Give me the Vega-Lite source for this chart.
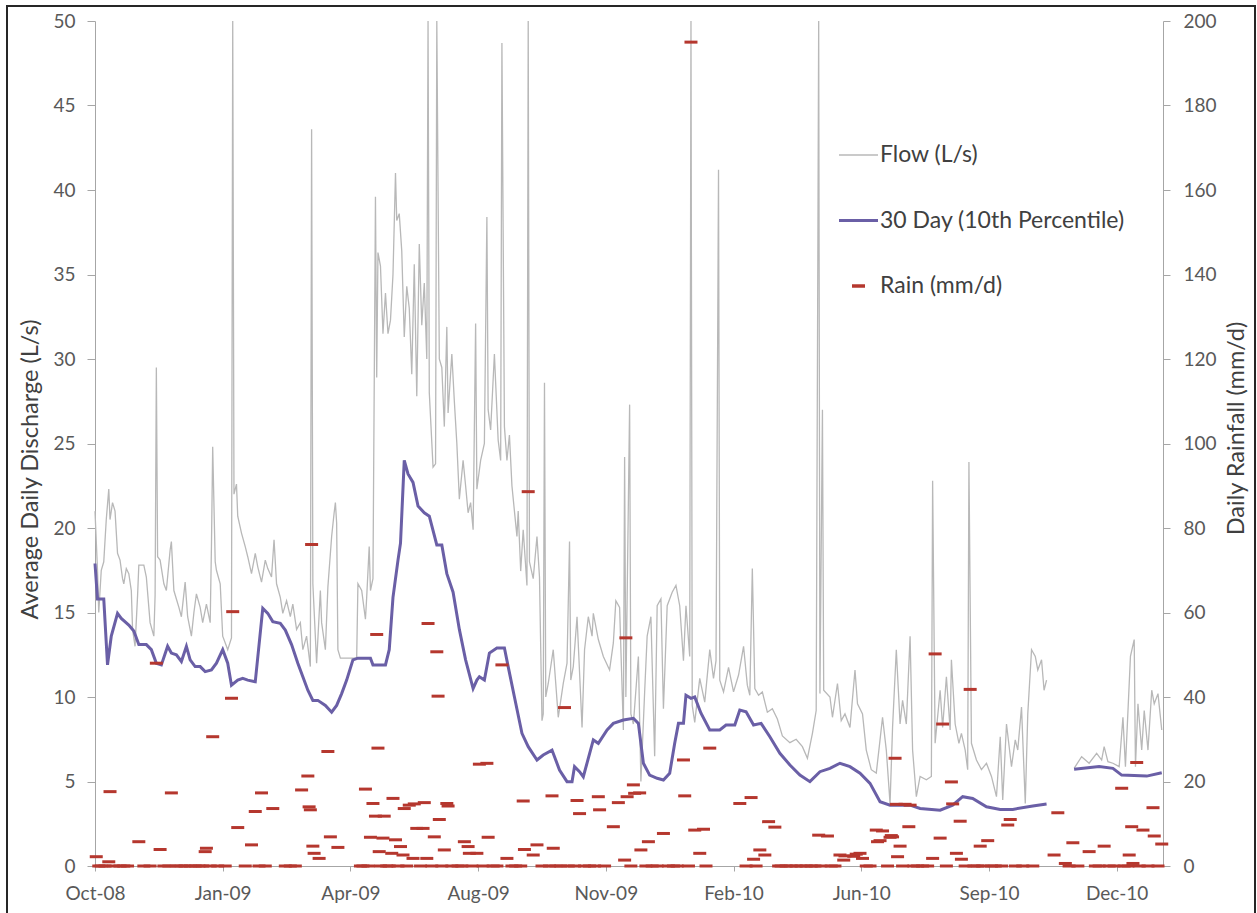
{
  "$schema": "https://vega.github.io/schema/vega-lite/v6.json",
  "width": 1248,
  "height": 910,
  "autosize": {"type": "none"},
  "padding": {"left": 7, "top": 6, "right": 2, "bottom": -3},
  "background": "white",
  "config": {
    "view": {"stroke": "#262626", "strokeWidth": 2},
    "font": "Lato",
    "axis": {
      "labelFont": "Lato", "titleFont": "Lato", "labelFontSize": 19, "labelColor": "#595959",
      "titleFontSize": 23.5, "titleFontWeight": "normal", "titleColor": "#404040",
      "domainColor": "#a6a6a6", "tickColor": "#a6a6a6", "grid": false,
      "labelFlush": false, "labelOverlap": false
    }
  },
  "datasets": {
    "flow": [
      {"date": "2008-10-01", "flow": 21.0}, {"date": "2008-10-03", "flow": 17.5}, {"date": "2008-10-04", "flow": 15.0}, {"date": "2008-10-06", "flow": 17.5},
      {"date": "2008-10-08", "flow": 18.0}, {"date": "2008-10-10", "flow": 20.5}, {"date": "2008-10-12", "flow": 22.3}, {"date": "2008-10-13", "flow": 20.5},
      {"date": "2008-10-15", "flow": 21.5}, {"date": "2008-10-17", "flow": 21.0}, {"date": "2008-10-19", "flow": 18.5}, {"date": "2008-10-21", "flow": 18.1},
      {"date": "2008-10-23", "flow": 17.0}, {"date": "2008-10-24", "flow": 16.7}, {"date": "2008-10-26", "flow": 17.6}, {"date": "2008-10-28", "flow": 17.3},
      {"date": "2008-10-30", "flow": 16.3}, {"date": "2008-10-31", "flow": 14.0}, {"date": "2008-11-02", "flow": 13.0}, {"date": "2008-11-04", "flow": 16.0},
      {"date": "2008-11-05", "flow": 17.8}, {"date": "2008-11-09", "flow": 17.8}, {"date": "2008-11-11", "flow": 17.1}, {"date": "2008-11-14", "flow": 14.4},
      {"date": "2008-11-17", "flow": 13.6}, {"date": "2008-11-18", "flow": 16.0}, {"date": "2008-11-19", "flow": 29.5}, {"date": "2008-11-20", "flow": 18.3},
      {"date": "2008-11-22", "flow": 18.1}, {"date": "2008-11-25", "flow": 16.7}, {"date": "2008-11-27", "flow": 16.3}, {"date": "2008-11-30", "flow": 18.7},
      {"date": "2008-12-01", "flow": 19.2}, {"date": "2008-12-03", "flow": 16.3}, {"date": "2008-12-05", "flow": 15.8}, {"date": "2008-12-07", "flow": 15.3},
      {"date": "2008-12-09", "flow": 14.75}, {"date": "2008-12-12", "flow": 16.8}, {"date": "2008-12-14", "flow": 14.75}, {"date": "2008-12-17", "flow": 13.6},
      {"date": "2008-12-19", "flow": 15.0}, {"date": "2008-12-21", "flow": 16.1}, {"date": "2008-12-24", "flow": 15.3}, {"date": "2008-12-26", "flow": 14.4},
      {"date": "2008-12-29", "flow": 15.5}, {"date": "2009-01-01", "flow": 14.4}, {"date": "2009-01-02", "flow": 18.9}, {"date": "2009-01-03", "flow": 24.8},
      {"date": "2009-01-05", "flow": 18.0}, {"date": "2009-01-06", "flow": 17.5}, {"date": "2009-01-09", "flow": 16.7}, {"date": "2009-01-11", "flow": 13.6},
      {"date": "2009-01-14", "flow": 13.0}, {"date": "2009-01-15", "flow": 12.8}, {"date": "2009-01-18", "flow": 13.5}, {"date": "2009-01-19", "flow": 50},
      {"date": "2009-01-20", "flow": 22.0}, {"date": "2009-01-22", "flow": 22.6}, {"date": "2009-01-23", "flow": 20.7}, {"date": "2009-01-26", "flow": 19.7},
      {"date": "2009-01-29", "flow": 18.9}, {"date": "2009-01-31", "flow": 18.3}, {"date": "2009-02-03", "flow": 17.3}, {"date": "2009-02-06", "flow": 18.5},
      {"date": "2009-02-08", "flow": 17.7}, {"date": "2009-02-11", "flow": 16.8}, {"date": "2009-02-14", "flow": 18.1}, {"date": "2009-02-16", "flow": 17.6},
      {"date": "2009-02-19", "flow": 17.1}, {"date": "2009-02-21", "flow": 19.3}, {"date": "2009-02-23", "flow": 16.7}, {"date": "2009-02-26", "flow": 15.9},
      {"date": "2009-02-28", "flow": 14.95}, {"date": "2009-03-03", "flow": 15.7}, {"date": "2009-03-06", "flow": 14.75}, {"date": "2009-03-08", "flow": 15.5},
      {"date": "2009-03-11", "flow": 14.0}, {"date": "2009-03-14", "flow": 14.4}, {"date": "2009-03-16", "flow": 12.8}, {"date": "2009-03-19", "flow": 13.6},
      {"date": "2009-03-22", "flow": 11.8}, {"date": "2009-03-23", "flow": 43.6}, {"date": "2009-03-24", "flow": 16.7}, {"date": "2009-03-27", "flow": 12.0},
      {"date": "2009-03-30", "flow": 16.3}, {"date": "2009-03-31", "flow": 14.4}, {"date": "2009-04-03", "flow": 12.8}, {"date": "2009-04-05", "flow": 16.5},
      {"date": "2009-04-08", "flow": 19.5}, {"date": "2009-04-10", "flow": 20.9}, {"date": "2009-04-11", "flow": 21.5}, {"date": "2009-04-12", "flow": 20.3},
      {"date": "2009-04-13", "flow": 12.8}, {"date": "2009-04-15", "flow": 12.3}, {"date": "2009-04-28", "flow": 12.3}, {"date": "2009-04-29", "flow": 16.7},
      {"date": "2009-05-02", "flow": 16.3}, {"date": "2009-05-05", "flow": 14.6}, {"date": "2009-05-06", "flow": 15.9}, {"date": "2009-05-08", "flow": 18.9},
      {"date": "2009-05-09", "flow": 16.3}, {"date": "2009-05-11", "flow": 17.0}, {"date": "2009-05-13", "flow": 39.6}, {"date": "2009-05-14", "flow": 28.9},
      {"date": "2009-05-15", "flow": 36.3}, {"date": "2009-05-17", "flow": 35.5}, {"date": "2009-05-19", "flow": 31.5}, {"date": "2009-05-21", "flow": 33.9},
      {"date": "2009-05-23", "flow": 31.5}, {"date": "2009-05-25", "flow": 32.3}, {"date": "2009-05-27", "flow": 35.0}, {"date": "2009-05-29", "flow": 41.0},
      {"date": "2009-05-30", "flow": 38.2}, {"date": "2009-06-01", "flow": 38.6}, {"date": "2009-06-03", "flow": 36.4}, {"date": "2009-06-05", "flow": 31.3},
      {"date": "2009-06-07", "flow": 34.3}, {"date": "2009-06-09", "flow": 33.0}, {"date": "2009-06-11", "flow": 29.1}, {"date": "2009-06-13", "flow": 35.6},
      {"date": "2009-06-15", "flow": 27.8}, {"date": "2009-06-17", "flow": 36.8}, {"date": "2009-06-19", "flow": 32.0}, {"date": "2009-06-21", "flow": 34.5},
      {"date": "2009-06-23", "flow": 30.0}, {"date": "2009-06-24", "flow": 50}, {"date": "2009-06-25", "flow": 28.0}, {"date": "2009-06-28", "flow": 23.6},
      {"date": "2009-06-30", "flow": 23.8}, {"date": "2009-07-01", "flow": 50}, {"date": "2009-07-03", "flow": 30.0}, {"date": "2009-07-05", "flow": 29.5},
      {"date": "2009-07-07", "flow": 26.0}, {"date": "2009-07-09", "flow": 31.9}, {"date": "2009-07-10", "flow": 26.8}, {"date": "2009-07-13", "flow": 30.3},
      {"date": "2009-07-15", "flow": 27.5}, {"date": "2009-07-17", "flow": 25.0}, {"date": "2009-07-19", "flow": 21.7}, {"date": "2009-07-22", "flow": 24.0},
      {"date": "2009-07-24", "flow": 22.5}, {"date": "2009-07-26", "flow": 20.9}, {"date": "2009-07-28", "flow": 21.5}, {"date": "2009-07-30", "flow": 19.9},
      {"date": "2009-08-01", "flow": 32.1}, {"date": "2009-08-02", "flow": 22.3}, {"date": "2009-08-05", "flow": 24.0}, {"date": "2009-08-08", "flow": 25.0},
      {"date": "2009-08-10", "flow": 38.4}, {"date": "2009-08-11", "flow": 27.0}, {"date": "2009-08-13", "flow": 25.8}, {"date": "2009-08-16", "flow": 30.3},
      {"date": "2009-08-19", "flow": 25.2}, {"date": "2009-08-21", "flow": 24.0}, {"date": "2009-08-22", "flow": 48.7}, {"date": "2009-08-24", "flow": 26.0},
      {"date": "2009-08-26", "flow": 24.0}, {"date": "2009-08-28", "flow": 25.5}, {"date": "2009-08-30", "flow": 22.5}, {"date": "2009-09-01", "flow": 21.0},
      {"date": "2009-09-03", "flow": 19.5}, {"date": "2009-09-04", "flow": 21.0}, {"date": "2009-09-06", "flow": 17.45}, {"date": "2009-09-08", "flow": 19.9},
      {"date": "2009-09-11", "flow": 16.6}, {"date": "2009-09-12", "flow": 50}, {"date": "2009-09-13", "flow": 18.0}, {"date": "2009-09-16", "flow": 17.0},
      {"date": "2009-09-19", "flow": 19.5}, {"date": "2009-09-21", "flow": 17.1}, {"date": "2009-09-23", "flow": 8.6}, {"date": "2009-09-24", "flow": 9.0},
      {"date": "2009-09-25", "flow": 28.6}, {"date": "2009-09-26", "flow": 10.0}, {"date": "2009-09-28", "flow": 10.8}, {"date": "2009-10-02", "flow": 12.8},
      {"date": "2009-10-06", "flow": 8.8}, {"date": "2009-10-10", "flow": 10.8}, {"date": "2009-10-13", "flow": 12.0}, {"date": "2009-10-15", "flow": 19.2},
      {"date": "2009-10-16", "flow": 11.0}, {"date": "2009-10-18", "flow": 11.8}, {"date": "2009-10-21", "flow": 14.75}, {"date": "2009-10-25", "flow": 8.2},
      {"date": "2009-10-27", "flow": 12.8}, {"date": "2009-10-30", "flow": 14.75}, {"date": "2009-11-02", "flow": 13.6}, {"date": "2009-11-03", "flow": 14.95},
      {"date": "2009-11-07", "flow": 13.4}, {"date": "2009-11-11", "flow": 12.4}, {"date": "2009-11-16", "flow": 11.6}, {"date": "2009-11-19", "flow": 13.2},
      {"date": "2009-11-21", "flow": 15.7}, {"date": "2009-11-24", "flow": 15.3}, {"date": "2009-11-27", "flow": 8.05}, {"date": "2009-11-28", "flow": 24.2},
      {"date": "2009-11-29", "flow": 10.0}, {"date": "2009-12-02", "flow": 27.3}, {"date": "2009-12-03", "flow": 9.0}, {"date": "2009-12-05", "flow": 8.4},
      {"date": "2009-12-09", "flow": 12.4}, {"date": "2009-12-11", "flow": 5.0}, {"date": "2009-12-14", "flow": 10.3}, {"date": "2009-12-16", "flow": 13.6},
      {"date": "2009-12-19", "flow": 14.75}, {"date": "2009-12-22", "flow": 6.5}, {"date": "2009-12-24", "flow": 15.4}, {"date": "2009-12-27", "flow": 15.8},
      {"date": "2009-12-29", "flow": 9.3}, {"date": "2010-01-01", "flow": 15.4}, {"date": "2010-01-05", "flow": 16.2}, {"date": "2010-01-08", "flow": 16.6},
      {"date": "2010-01-11", "flow": 15.4}, {"date": "2010-01-14", "flow": 12.15}, {"date": "2010-01-16", "flow": 15.4}, {"date": "2010-01-19", "flow": 12.4},
      {"date": "2010-01-20", "flow": 50}, {"date": "2010-01-21", "flow": 9.5}, {"date": "2010-01-23", "flow": 8.5}, {"date": "2010-01-27", "flow": 11.1},
      {"date": "2010-01-31", "flow": 9.7}, {"date": "2010-02-04", "flow": 12.8}, {"date": "2010-02-07", "flow": 11.1}, {"date": "2010-02-09", "flow": 12.15},
      {"date": "2010-02-11", "flow": 41.2}, {"date": "2010-02-12", "flow": 11.0}, {"date": "2010-02-15", "flow": 10.3}, {"date": "2010-02-19", "flow": 11.75},
      {"date": "2010-02-23", "flow": 10.3}, {"date": "2010-02-27", "flow": 11.3}, {"date": "2010-03-03", "flow": 13.0}, {"date": "2010-03-06", "flow": 10.7},
      {"date": "2010-03-08", "flow": 10.1}, {"date": "2010-03-10", "flow": 17.6}, {"date": "2010-03-12", "flow": 10.5}, {"date": "2010-03-15", "flow": 10.1},
      {"date": "2010-03-18", "flow": 10.3}, {"date": "2010-03-22", "flow": 9.1}, {"date": "2010-03-26", "flow": 9.3}, {"date": "2010-03-30", "flow": 8.7},
      {"date": "2010-04-03", "flow": 7.7}, {"date": "2010-04-09", "flow": 7.3}, {"date": "2010-04-14", "flow": 7.5}, {"date": "2010-04-19", "flow": 7.06},
      {"date": "2010-04-23", "flow": 6.37}, {"date": "2010-04-27", "flow": 7.85}, {"date": "2010-04-30", "flow": 9.2}, {"date": "2010-05-02", "flow": 50},
      {"date": "2010-05-03", "flow": 10.2}, {"date": "2010-05-05", "flow": 27.0}, {"date": "2010-05-06", "flow": 10.4}, {"date": "2010-05-11", "flow": 10.0},
      {"date": "2010-05-13", "flow": 8.8}, {"date": "2010-05-17", "flow": 10.8}, {"date": "2010-05-20", "flow": 8.6}, {"date": "2010-05-23", "flow": 9.0},
      {"date": "2010-05-27", "flow": 8.2}, {"date": "2010-05-31", "flow": 11.6}, {"date": "2010-06-02", "flow": 9.6}, {"date": "2010-06-06", "flow": 9.0},
      {"date": "2010-06-09", "flow": 6.86}, {"date": "2010-06-13", "flow": 5.7}, {"date": "2010-06-17", "flow": 5.5}, {"date": "2010-06-20", "flow": 7.46},
      {"date": "2010-06-22", "flow": 8.8}, {"date": "2010-06-25", "flow": 6.86}, {"date": "2010-06-28", "flow": 3.7}, {"date": "2010-06-30", "flow": 8.2},
      {"date": "2010-07-03", "flow": 12.8}, {"date": "2010-07-06", "flow": 8.4}, {"date": "2010-07-08", "flow": 9.8}, {"date": "2010-07-11", "flow": 8.4},
      {"date": "2010-07-14", "flow": 13.6}, {"date": "2010-07-16", "flow": 6.86}, {"date": "2010-07-19", "flow": 4.1}, {"date": "2010-07-22", "flow": 5.3},
      {"date": "2010-07-27", "flow": 5.1}, {"date": "2010-07-31", "flow": 5.3}, {"date": "2010-08-01", "flow": 22.8}, {"date": "2010-08-03", "flow": 7.26},
      {"date": "2010-08-07", "flow": 10.4}, {"date": "2010-08-09", "flow": 8.2}, {"date": "2010-08-12", "flow": 11.2}, {"date": "2010-08-15", "flow": 8.05},
      {"date": "2010-08-16", "flow": 12.2}, {"date": "2010-08-19", "flow": 8.4}, {"date": "2010-08-22", "flow": 7.26}, {"date": "2010-08-24", "flow": 7.85},
      {"date": "2010-08-27", "flow": 6.86}, {"date": "2010-08-29", "flow": 5.7}, {"date": "2010-08-30", "flow": 23.9}, {"date": "2010-09-01", "flow": 7.26},
      {"date": "2010-09-05", "flow": 6.27}, {"date": "2010-09-09", "flow": 5.7}, {"date": "2010-09-13", "flow": 6.08}, {"date": "2010-09-17", "flow": 5.3},
      {"date": "2010-09-21", "flow": 4.1}, {"date": "2010-09-24", "flow": 7.65}, {"date": "2010-09-26", "flow": 3.9}, {"date": "2010-09-29", "flow": 8.4},
      {"date": "2010-10-03", "flow": 5.88}, {"date": "2010-10-06", "flow": 7.46}, {"date": "2010-10-08", "flow": 6.86}, {"date": "2010-10-11", "flow": 9.4},
      {"date": "2010-10-14", "flow": 3.7}, {"date": "2010-10-16", "flow": 9.0}, {"date": "2010-10-19", "flow": 12.8}, {"date": "2010-10-22", "flow": 12.4},
      {"date": "2010-10-24", "flow": 11.6}, {"date": "2010-10-27", "flow": 12.2}, {"date": "2010-10-29", "flow": 10.4}, {"date": "2010-10-31", "flow": 11.0},
      {"date": "2010-11-10", "flow": null},
      {"date": "2010-11-22", "flow": 5.78}, {"date": "2010-11-28", "flow": 6.47}, {"date": "2010-12-04", "flow": 6.08}, {"date": "2010-12-10", "flow": 6.67},
      {"date": "2010-12-14", "flow": 6.27}, {"date": "2010-12-16", "flow": 7.06}, {"date": "2010-12-19", "flow": 6.17}, {"date": "2010-12-23", "flow": 6.08},
      {"date": "2010-12-28", "flow": 5.88}, {"date": "2010-12-31", "flow": 8.8}, {"date": "2011-01-02", "flow": 5.88}, {"date": "2011-01-06", "flow": 12.4},
      {"date": "2011-01-09", "flow": 13.4}, {"date": "2011-01-10", "flow": 5.88}, {"date": "2011-01-12", "flow": 9.6}, {"date": "2011-01-15", "flow": 6.86},
      {"date": "2011-01-17", "flow": 9.2}, {"date": "2011-01-20", "flow": 6.86}, {"date": "2011-01-23", "flow": 10.4}, {"date": "2011-01-25", "flow": 9.6},
      {"date": "2011-01-28", "flow": 10.2}, {"date": "2011-01-31", "flow": 8.05}
    ],
    "p10": [
      {"date": "2008-10-01", "p10": 17.9}, {"date": "2008-10-03", "p10": 15.8}, {"date": "2008-10-08", "p10": 15.8}, {"date": "2008-10-11", "p10": 11.9},
      {"date": "2008-10-14", "p10": 13.6}, {"date": "2008-10-19", "p10": 14.95}, {"date": "2008-10-22", "p10": 14.65}, {"date": "2008-10-28", "p10": 14.26},
      {"date": "2008-11-01", "p10": 13.9}, {"date": "2008-11-05", "p10": 13.1}, {"date": "2008-11-11", "p10": 13.1}, {"date": "2008-11-15", "p10": 12.8},
      {"date": "2008-11-19", "p10": 12.0}, {"date": "2008-11-23", "p10": 11.9}, {"date": "2008-11-28", "p10": 13.0}, {"date": "2008-12-01", "p10": 12.6},
      {"date": "2008-12-05", "p10": 12.5}, {"date": "2008-12-09", "p10": 12.1}, {"date": "2008-12-13", "p10": 13.0}, {"date": "2008-12-16", "p10": 12.2},
      {"date": "2008-12-20", "p10": 11.8}, {"date": "2008-12-24", "p10": 11.8}, {"date": "2008-12-28", "p10": 11.5}, {"date": "2009-01-02", "p10": 11.6},
      {"date": "2009-01-06", "p10": 12.0}, {"date": "2009-01-11", "p10": 12.8}, {"date": "2009-01-15", "p10": 12.0}, {"date": "2009-01-18", "p10": 10.7},
      {"date": "2009-01-23", "p10": 11.0}, {"date": "2009-01-27", "p10": 11.1}, {"date": "2009-01-31", "p10": 11.0}, {"date": "2009-02-06", "p10": 10.9},
      {"date": "2009-02-12", "p10": 15.25}, {"date": "2009-02-16", "p10": 14.95}, {"date": "2009-02-20", "p10": 14.46}, {"date": "2009-02-26", "p10": 14.36},
      {"date": "2009-03-02", "p10": 13.96}, {"date": "2009-03-07", "p10": 13.1}, {"date": "2009-03-12", "p10": 12.0}, {"date": "2009-03-16", "p10": 11.2},
      {"date": "2009-03-20", "p10": 10.4}, {"date": "2009-03-24", "p10": 9.8}, {"date": "2009-03-28", "p10": 9.8}, {"date": "2009-04-03", "p10": 9.5},
      {"date": "2009-04-08", "p10": 9.1}, {"date": "2009-04-12", "p10": 9.5}, {"date": "2009-04-16", "p10": 10.2}, {"date": "2009-04-20", "p10": 11.0},
      {"date": "2009-04-25", "p10": 12.2}, {"date": "2009-04-29", "p10": 12.3}, {"date": "2009-05-09", "p10": 12.3}, {"date": "2009-05-11", "p10": 11.9},
      {"date": "2009-05-21", "p10": 11.9}, {"date": "2009-05-24", "p10": 12.8}, {"date": "2009-05-27", "p10": 15.9}, {"date": "2009-05-31", "p10": 18.1},
      {"date": "2009-06-02", "p10": 19.1}, {"date": "2009-06-05", "p10": 24.0}, {"date": "2009-06-08", "p10": 23.2}, {"date": "2009-06-12", "p10": 22.7},
      {"date": "2009-06-16", "p10": 21.3}, {"date": "2009-06-21", "p10": 20.9}, {"date": "2009-06-25", "p10": 20.7}, {"date": "2009-07-01", "p10": 19.0},
      {"date": "2009-07-05", "p10": 19.0}, {"date": "2009-07-09", "p10": 17.3}, {"date": "2009-07-14", "p10": 16.2}, {"date": "2009-07-19", "p10": 14.0},
      {"date": "2009-07-24", "p10": 12.2}, {"date": "2009-07-30", "p10": 10.5}, {"date": "2009-08-02", "p10": 11.0}, {"date": "2009-08-04", "p10": 11.2},
      {"date": "2009-08-08", "p10": 11.0}, {"date": "2009-08-12", "p10": 12.6}, {"date": "2009-08-18", "p10": 12.9}, {"date": "2009-08-24", "p10": 12.9},
      {"date": "2009-08-27", "p10": 11.8}, {"date": "2009-09-01", "p10": 10.0}, {"date": "2009-09-07", "p10": 7.85}, {"date": "2009-09-12", "p10": 7.06},
      {"date": "2009-09-19", "p10": 6.27}, {"date": "2009-09-24", "p10": 6.57}, {"date": "2009-10-01", "p10": 6.86}, {"date": "2009-10-07", "p10": 5.68},
      {"date": "2009-10-13", "p10": 4.99}, {"date": "2009-10-17", "p10": 4.99}, {"date": "2009-10-19", "p10": 5.88}, {"date": "2009-10-23", "p10": 5.58},
      {"date": "2009-10-26", "p10": 5.28}, {"date": "2009-11-03", "p10": 7.46}, {"date": "2009-11-07", "p10": 7.26}, {"date": "2009-11-14", "p10": 8.05},
      {"date": "2009-11-19", "p10": 8.44}, {"date": "2009-11-27", "p10": 8.64}, {"date": "2009-12-05", "p10": 8.74}, {"date": "2009-12-09", "p10": 8.44},
      {"date": "2009-12-13", "p10": 6.08}, {"date": "2009-12-18", "p10": 5.38}, {"date": "2009-12-24", "p10": 5.19}, {"date": "2009-12-29", "p10": 5.09},
      {"date": "2010-01-03", "p10": 5.49}, {"date": "2010-01-07", "p10": 7.26}, {"date": "2010-01-10", "p10": 8.44}, {"date": "2010-01-14", "p10": 8.44},
      {"date": "2010-01-16", "p10": 10.1}, {"date": "2010-01-20", "p10": 9.92}, {"date": "2010-01-23", "p10": 10.0}, {"date": "2010-01-28", "p10": 9.04},
      {"date": "2010-02-04", "p10": 8.05}, {"date": "2010-02-12", "p10": 8.05}, {"date": "2010-02-17", "p10": 8.34}, {"date": "2010-02-24", "p10": 8.34},
      {"date": "2010-02-28", "p10": 9.23}, {"date": "2010-03-05", "p10": 9.13}, {"date": "2010-03-11", "p10": 8.34}, {"date": "2010-03-17", "p10": 8.44},
      {"date": "2010-03-24", "p10": 7.65}, {"date": "2010-04-01", "p10": 6.67}, {"date": "2010-04-09", "p10": 5.98}, {"date": "2010-04-17", "p10": 5.38},
      {"date": "2010-04-25", "p10": 4.99}, {"date": "2010-05-03", "p10": 5.58}, {"date": "2010-05-11", "p10": 5.78}, {"date": "2010-05-19", "p10": 6.08},
      {"date": "2010-05-27", "p10": 5.88}, {"date": "2010-06-04", "p10": 5.49}, {"date": "2010-06-12", "p10": 4.89}, {"date": "2010-06-20", "p10": 3.8},
      {"date": "2010-06-28", "p10": 3.6}, {"date": "2010-07-14", "p10": 3.6}, {"date": "2010-07-22", "p10": 3.4}, {"date": "2010-08-07", "p10": 3.3},
      {"date": "2010-08-17", "p10": 3.6}, {"date": "2010-08-25", "p10": 4.1}, {"date": "2010-09-02", "p10": 4.0}, {"date": "2010-09-13", "p10": 3.5},
      {"date": "2010-09-24", "p10": 3.35}, {"date": "2010-10-04", "p10": 3.35}, {"date": "2010-10-20", "p10": 3.55}, {"date": "2010-10-31", "p10": 3.67},
      {"date": "2010-11-10", "p10": null},
      {"date": "2010-11-22", "p10": 5.72}, {"date": "2010-12-12", "p10": 5.88}, {"date": "2010-12-23", "p10": 5.78}, {"date": "2010-12-30", "p10": 5.38},
      {"date": "2011-01-19", "p10": 5.32}, {"date": "2011-01-31", "p10": 5.52}
    ],
    "rain": [
      {"date": "2008-10-02", "rain": 2.2}, {"date": "2008-10-04", "rain": 0}, {"date": "2008-10-06", "rain": 0}, {"date": "2008-10-09", "rain": 0},
      {"date": "2008-10-12", "rain": 1.0}, {"date": "2008-10-13", "rain": 17.6}, {"date": "2008-10-16", "rain": 0}, {"date": "2008-10-21", "rain": 0},
      {"date": "2008-10-24", "rain": 0}, {"date": "2008-10-27", "rain": 0}, {"date": "2008-11-05", "rain": 5.75}, {"date": "2008-11-09", "rain": 0},
      {"date": "2008-11-14", "rain": 0}, {"date": "2008-11-19", "rain": 48.0}, {"date": "2008-11-22", "rain": 3.9}, {"date": "2008-11-25", "rain": 0},
      {"date": "2008-11-29", "rain": 0}, {"date": "2008-12-01", "rain": 17.3}, {"date": "2008-12-05", "rain": 0}, {"date": "2008-12-09", "rain": 0},
      {"date": "2008-12-12", "rain": 0}, {"date": "2008-12-16", "rain": 0}, {"date": "2008-12-20", "rain": 0}, {"date": "2008-12-23", "rain": 0},
      {"date": "2008-12-26", "rain": 0}, {"date": "2008-12-28", "rain": 3.4}, {"date": "2008-12-29", "rain": 4.2}, {"date": "2009-01-01", "rain": 0},
      {"date": "2009-01-03", "rain": 30.6}, {"date": "2009-01-07", "rain": 0}, {"date": "2009-01-13", "rain": 0}, {"date": "2009-01-18", "rain": 39.7},
      {"date": "2009-01-19", "rain": 60.2}, {"date": "2009-01-23", "rain": 9.1}, {"date": "2009-01-29", "rain": 0}, {"date": "2009-02-03", "rain": 5.0},
      {"date": "2009-02-06", "rain": 12.9}, {"date": "2009-02-09", "rain": 0}, {"date": "2009-02-11", "rain": 17.3}, {"date": "2009-02-14", "rain": 0},
      {"date": "2009-02-20", "rain": 13.6}, {"date": "2009-03-02", "rain": 0}, {"date": "2009-03-06", "rain": 0}, {"date": "2009-03-10", "rain": 0},
      {"date": "2009-03-15", "rain": 18.0}, {"date": "2009-03-20", "rain": 21.3}, {"date": "2009-03-21", "rain": 14.0}, {"date": "2009-03-22", "rain": 13.3},
      {"date": "2009-03-23", "rain": 76.1}, {"date": "2009-03-24", "rain": 4.7}, {"date": "2009-03-25", "rain": 3.0}, {"date": "2009-03-29", "rain": 1.8},
      {"date": "2009-04-05", "rain": 27.1}, {"date": "2009-04-07", "rain": 6.9}, {"date": "2009-04-13", "rain": 4.4}, {"date": "2009-05-01", "rain": 0},
      {"date": "2009-05-03", "rain": 0}, {"date": "2009-05-05", "rain": 18.2}, {"date": "2009-05-07", "rain": 0}, {"date": "2009-05-09", "rain": 6.8},
      {"date": "2009-05-11", "rain": 14.8}, {"date": "2009-05-13", "rain": 11.8}, {"date": "2009-05-14", "rain": 54.8}, {"date": "2009-05-15", "rain": 27.9},
      {"date": "2009-05-16", "rain": 3.4}, {"date": "2009-05-17", "rain": 0}, {"date": "2009-05-19", "rain": 6.6}, {"date": "2009-05-20", "rain": 11.8},
      {"date": "2009-05-22", "rain": 0}, {"date": "2009-05-24", "rain": 0}, {"date": "2009-05-26", "rain": 3.0}, {"date": "2009-05-27", "rain": 16.0},
      {"date": "2009-05-29", "rain": 6.2}, {"date": "2009-05-31", "rain": 0}, {"date": "2009-06-02", "rain": 4.6}, {"date": "2009-06-04", "rain": 2.6},
      {"date": "2009-06-05", "rain": 13.6}, {"date": "2009-06-07", "rain": 0}, {"date": "2009-06-09", "rain": 14.4}, {"date": "2009-06-12", "rain": 1.8},
      {"date": "2009-06-13", "rain": 14.7}, {"date": "2009-06-15", "rain": 8.9}, {"date": "2009-06-18", "rain": 0}, {"date": "2009-06-20", "rain": 8.9},
      {"date": "2009-06-21", "rain": 15.0}, {"date": "2009-06-23", "rain": 1.8}, {"date": "2009-06-24", "rain": 57.4}, {"date": "2009-06-27", "rain": 0},
      {"date": "2009-06-29", "rain": 6.9}, {"date": "2009-07-01", "rain": 50.7}, {"date": "2009-07-02", "rain": 40.2}, {"date": "2009-07-03", "rain": 11.0},
      {"date": "2009-07-05", "rain": 0}, {"date": "2009-07-07", "rain": 3.8}, {"date": "2009-07-09", "rain": 14.8}, {"date": "2009-07-10", "rain": 14.2},
      {"date": "2009-07-13", "rain": 0}, {"date": "2009-07-18", "rain": 0}, {"date": "2009-07-21", "rain": 0}, {"date": "2009-07-23", "rain": 5.75},
      {"date": "2009-07-26", "rain": 4.6}, {"date": "2009-07-27", "rain": 3.0}, {"date": "2009-07-29", "rain": 0}, {"date": "2009-08-02", "rain": 3.0},
      {"date": "2009-08-04", "rain": 24.1}, {"date": "2009-08-07", "rain": 0}, {"date": "2009-08-10", "rain": 24.3}, {"date": "2009-08-11", "rain": 6.8},
      {"date": "2009-08-15", "rain": 0}, {"date": "2009-08-18", "rain": 0}, {"date": "2009-08-22", "rain": 47.6}, {"date": "2009-08-26", "rain": 1.8},
      {"date": "2009-08-30", "rain": 0}, {"date": "2009-09-02", "rain": 0}, {"date": "2009-09-06", "rain": 0}, {"date": "2009-09-08", "rain": 15.4},
      {"date": "2009-09-09", "rain": 3.9}, {"date": "2009-09-12", "rain": 88.6}, {"date": "2009-09-16", "rain": 2.6}, {"date": "2009-09-19", "rain": 5.0},
      {"date": "2009-09-23", "rain": 0}, {"date": "2009-09-29", "rain": 0}, {"date": "2009-10-01", "rain": 16.6}, {"date": "2009-10-02", "rain": 4.2},
      {"date": "2009-10-04", "rain": 0}, {"date": "2009-10-08", "rain": 0}, {"date": "2009-10-11", "rain": 37.5}, {"date": "2009-10-14", "rain": 0},
      {"date": "2009-10-19", "rain": 0}, {"date": "2009-10-21", "rain": 15.5}, {"date": "2009-10-23", "rain": 12.4}, {"date": "2009-10-27", "rain": 0},
      {"date": "2009-10-31", "rain": 0}, {"date": "2009-11-04", "rain": 0}, {"date": "2009-11-07", "rain": 16.4}, {"date": "2009-11-08", "rain": 13.3},
      {"date": "2009-11-12", "rain": 0}, {"date": "2009-11-19", "rain": 9.3}, {"date": "2009-11-23", "rain": 15.0}, {"date": "2009-11-28", "rain": 1.4},
      {"date": "2009-11-29", "rain": 54.0}, {"date": "2009-11-30", "rain": 16.4}, {"date": "2009-12-03", "rain": 0}, {"date": "2009-12-05", "rain": 19.2},
      {"date": "2009-12-06", "rain": 17.2}, {"date": "2009-12-10", "rain": 17.3}, {"date": "2009-12-11", "rain": 3.8}, {"date": "2009-12-15", "rain": 0},
      {"date": "2009-12-17", "rain": 5.75}, {"date": "2009-12-20", "rain": 0}, {"date": "2009-12-24", "rain": 0}, {"date": "2009-12-29", "rain": 7.7},
      {"date": "2010-01-02", "rain": 0}, {"date": "2010-01-06", "rain": 0}, {"date": "2010-01-09", "rain": 0}, {"date": "2010-01-14", "rain": 25.1},
      {"date": "2010-01-15", "rain": 16.6}, {"date": "2010-01-18", "rain": 0}, {"date": "2010-01-20", "rain": 195}, {"date": "2010-01-23", "rain": 8.5},
      {"date": "2010-01-27", "rain": 3.0}, {"date": "2010-01-30", "rain": 8.7}, {"date": "2010-02-01", "rain": 0}, {"date": "2010-02-04", "rain": 27.9},
      {"date": "2010-02-28", "rain": 14.8}, {"date": "2010-03-05", "rain": 0}, {"date": "2010-03-09", "rain": 16.2}, {"date": "2010-03-11", "rain": 1.6},
      {"date": "2010-03-13", "rain": 0}, {"date": "2010-03-16", "rain": 3.8}, {"date": "2010-03-20", "rain": 2.6}, {"date": "2010-03-23", "rain": 10.5},
      {"date": "2010-03-28", "rain": 9.2}, {"date": "2010-03-31", "rain": 0}, {"date": "2010-04-02", "rain": 0}, {"date": "2010-04-06", "rain": 0},
      {"date": "2010-04-10", "rain": 0}, {"date": "2010-04-14", "rain": 0}, {"date": "2010-04-18", "rain": 0}, {"date": "2010-04-22", "rain": 0},
      {"date": "2010-04-26", "rain": 0}, {"date": "2010-04-29", "rain": 0}, {"date": "2010-05-02", "rain": 7.3}, {"date": "2010-05-04", "rain": 0},
      {"date": "2010-05-09", "rain": 7.1}, {"date": "2010-05-12", "rain": 0}, {"date": "2010-05-15", "rain": 0}, {"date": "2010-05-19", "rain": 2.6},
      {"date": "2010-05-22", "rain": 1.4}, {"date": "2010-05-23", "rain": 2.4}, {"date": "2010-05-30", "rain": 2.3}, {"date": "2010-06-01", "rain": 2.8},
      {"date": "2010-06-04", "rain": 3.0}, {"date": "2010-06-06", "rain": 1.8}, {"date": "2010-06-09", "rain": 0}, {"date": "2010-06-12", "rain": 0},
      {"date": "2010-06-17", "rain": 8.5}, {"date": "2010-06-18", "rain": 5.75}, {"date": "2010-06-20", "rain": 6.0}, {"date": "2010-06-22", "rain": 8.3},
      {"date": "2010-06-26", "rain": 0}, {"date": "2010-06-28", "rain": 6.8}, {"date": "2010-06-29", "rain": 7.2}, {"date": "2010-06-30", "rain": 6.9},
      {"date": "2010-07-02", "rain": 25.5}, {"date": "2010-07-03", "rain": 14.6}, {"date": "2010-07-04", "rain": 2.2}, {"date": "2010-07-06", "rain": 4.7},
      {"date": "2010-07-08", "rain": 0}, {"date": "2010-07-10", "rain": 14.6}, {"date": "2010-07-13", "rain": 9.3}, {"date": "2010-07-14", "rain": 14.4},
      {"date": "2010-07-17", "rain": 0}, {"date": "2010-07-20", "rain": 0}, {"date": "2010-07-24", "rain": 0}, {"date": "2010-07-28", "rain": 0},
      {"date": "2010-08-01", "rain": 1.8}, {"date": "2010-08-03", "rain": 50.2}, {"date": "2010-08-07", "rain": 6.6}, {"date": "2010-08-09", "rain": 33.6},
      {"date": "2010-08-12", "rain": 0}, {"date": "2010-08-16", "rain": 19.9}, {"date": "2010-08-17", "rain": 14.7}, {"date": "2010-08-20", "rain": 3.0},
      {"date": "2010-08-23", "rain": 10.6}, {"date": "2010-08-24", "rain": 1.6}, {"date": "2010-08-27", "rain": 0}, {"date": "2010-08-31", "rain": 41.8},
      {"date": "2010-09-03", "rain": 0}, {"date": "2010-09-06", "rain": 0}, {"date": "2010-09-08", "rain": 4.7}, {"date": "2010-09-10", "rain": 0},
      {"date": "2010-09-14", "rain": 6.0}, {"date": "2010-09-17", "rain": 0}, {"date": "2010-09-20", "rain": 0}, {"date": "2010-09-25", "rain": 0},
      {"date": "2010-09-30", "rain": 9.7}, {"date": "2010-10-02", "rain": 11.0}, {"date": "2010-10-06", "rain": 0}, {"date": "2010-10-12", "rain": 0},
      {"date": "2010-10-20", "rain": 0}, {"date": "2010-11-06", "rain": 2.6}, {"date": "2010-11-09", "rain": 12.6}, {"date": "2010-11-15", "rain": 0.6},
      {"date": "2010-11-18", "rain": 0}, {"date": "2010-11-21", "rain": 5.5}, {"date": "2010-11-25", "rain": 0}, {"date": "2010-12-04", "rain": 3.4},
      {"date": "2010-12-09", "rain": 0}, {"date": "2010-12-12", "rain": 0}, {"date": "2010-12-16", "rain": 4.7}, {"date": "2010-12-20", "rain": 0},
      {"date": "2010-12-24", "rain": 0}, {"date": "2010-12-30", "rain": 18.4}, {"date": "2011-01-01", "rain": 0}, {"date": "2011-01-04", "rain": 0},
      {"date": "2011-01-05", "rain": 2.6}, {"date": "2011-01-07", "rain": 9.3}, {"date": "2011-01-08", "rain": 0.6}, {"date": "2011-01-11", "rain": 24.5},
      {"date": "2011-01-13", "rain": 0}, {"date": "2011-01-16", "rain": 8.5}, {"date": "2011-01-20", "rain": 0}, {"date": "2011-01-24", "rain": 13.8},
      {"date": "2011-01-25", "rain": 7.1}, {"date": "2011-01-28", "rain": 0}, {"date": "2011-01-31", "rain": 5.2}
    ]
  },
  "layer": [
    {
      "layer": [
        {
          "data": {"name": "flow"},
          "mark": {"type": "line", "strokeWidth": 1.3, "invalid": "break-paths-show-domains"},
          "encoding": {
            "x": {
              "field": "date", "type": "temporal",
              "scale": {"domain": ["2008-10-01", "2011-02-01"], "range": [88, 1156]},
              "axis": {
                "title": null, "orient": "bottom", "offset": -50, "tickSize": 5, "labelPadding": 13,
                "format": "%b-%y",
                "values": ["2008-10-01", "2009-01-11", "2009-04-23", "2009-08-03", "2009-11-13", "2010-02-23", "2010-06-05", "2010-09-15", "2010-12-26"]
              }
            },
            "y": {
              "field": "flow", "type": "quantitative",
              "scale": {"domain": [0, 50], "range": [860, 15], "nice": false},
              "axis": {
                "title": "Average Daily Discharge (L/s)", "orient": "left", "offset": -88,
                "values": [0, 5, 10, 15, 20, 25, 30, 35, 40, 45, 50],
                "tickSize": 8, "labelPadding": 12,
                "titleX": -65, "titleY": 463, "titleAngle": 270, "titleAlign": "center", "titleBaseline": "middle"
              }
            },
            "color": {
              "datum": "Flow (L/s)",
              "scale": {
                "domain": ["Flow (L/s)", "30 Day (10th Percentile)", "Rain (mm/d)"],
                "range": ["#b8b8b8", "#6a5fa6", "#b5372e"]
              },
              "legend": {
                "title": null, "orient": "none", "legendX": 840, "legendY": 137.5, "padding": 0,
                "symbolType": "stroke", "symbolSize": 1521, "labelFont": "Lato", "labelFontSize": 23,
                "labelColor": "#404040", "labelOffset": 10, "rowPadding": 41.5, "labelLimit": 0,
                "encode": {
                  "symbols": {
                    "update": {
                      "stroke": {"signal": "scale('color', datum.value)"},
                      "fill": {"value": "transparent"},
                      "opacity": {"value": 1},
                      "strokeWidth": {"signal": "datum.value === '30 Day (10th Percentile)' ? 3 : (datum.value === 'Rain (mm/d)' ? 3.5 : 1.3)"},
                      "size": {"signal": "datum.value === 'Rain (mm/d)' ? 169 : 1521"}
                    }
                  }
                }
              }
            }
          }
        },
        {
          "data": {"name": "p10"},
          "mark": {"type": "line", "strokeWidth": 3, "invalid": "break-paths-show-domains"},
          "encoding": {
            "x": {"field": "date", "type": "temporal"},
            "y": {"field": "p10", "type": "quantitative"},
            "color": {"datum": "30 Day (10th Percentile)"}
          }
        }
      ]
    },
    {
      "data": {"name": "rain"},
      "mark": {"type": "tick", "orient": "horizontal", "size": 13, "thickness": 3, "opacity": 1},
      "encoding": {
        "x": {"field": "date", "type": "temporal"},
        "y": {
          "field": "rain", "type": "quantitative",
          "scale": {"domain": [0, 200], "range": [860, 15], "nice": false},
          "axis": {
            "title": "Daily Rainfall (mm/d)", "orient": "right", "offset": -92,
            "values": [0, 20, 40, 60, 80, 100, 120, 140, 160, 180, 200],
            "tickSize": 7, "labelPadding": 13,
            "titleX": 73, "titleY": 422, "titleAngle": 270, "titleAlign": "center", "titleBaseline": "middle"
          }
        },
        "color": {"datum": "Rain (mm/d)"}
      }
    }
  ],
  "resolve": {"scale": {"y": "independent"}, "axis": {"y": "independent"}}
}
